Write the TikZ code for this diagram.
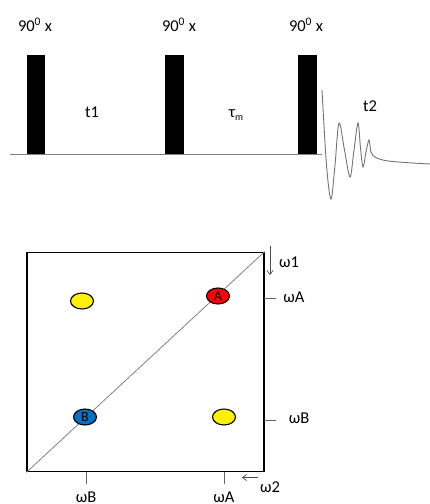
\documentclass[tikz,border=0pt]{standalone}
\usepackage{fontspec}
\setmainfont{Carlito}
\usetikzlibrary{shapes.geometric,arrows.meta}
\begin{document}
\begin{tikzpicture}[x=1pt,y=-1pt,
  lbl/.style={font=\fontsize{16.5}{19}\selectfont, inner sep=0pt},
  pulse/.style={fill=black, draw=none},
  peak/.style={ellipse, draw=black, line width=1.1pt, minimum width=23pt, minimum height=16pt, inner sep=0pt, font=\fontsize{14}{16}\selectfont},
  tick/.style={draw=gray!80!black, line width=0.8pt},
  axarrow/.style={draw=gray!60!black, line width=0.7pt, -{Straight Barb[length=4pt,width=6pt]}}]
\useasboundingbox (0,0) rectangle (430,504);
% pulse sequence
\coordinate (b0) at (10,154);
\coordinate (b1) at (322,154);
\draw[gray, line width=1pt] (b0) -- (b1);
\fill[pulse] (27,55) rectangle (45,154);
\fill[pulse] (165,55) rectangle (184,154);
\fill[pulse] (298,55) rectangle (317,154);
\node[lbl] (p1) at (35,25) {90\textsuperscript{0} x};
\node[lbl] (p2) at (179,25) {90\textsuperscript{0} x};
\node[lbl] (p3) at (306,25) {90\textsuperscript{0} x};
\node[lbl] (t1) at (92,112) {t1};
\node[lbl] (tm) at (236,115) {τ\raisebox{-0.4ex}{\fontsize{10}{11}\selectfont m}};
\node[lbl] (t2) at (370,106) {t2};
\draw[gray!90!black, line width=0.9pt] plot[smooth, tension=0.55] coordinates {(322,90) (326.5,165) (331,199) (335,165) (339,123) (344.5,150) (350,177) (354,150) (358,123) (360.5,148) (363,167) (366,152) (369,140) (371,152) (375,157) (385,160.5) (405,162.5) (430,164)};
% 2D spectrum
\node[draw=black, line width=1.4pt, minimum width=237pt, minimum height=219.5pt, inner sep=0pt] (box) at (145.5,362) {};
\draw[gray, line width=0.8pt] (box.south west) -- (box.north east);
\node[peak, fill=yellow] (c1) at (82,301) {};
\node[peak, fill=red] (A) at (218,296) {A};
\node[peak, fill={rgb,255:red,0;green,112;blue,192}] (B) at (85,417) {B};
\node[peak, fill=yellow] (c2) at (224,417) {};
% right ticks
\coordinate (ra0) at (264,298);
\coordinate (ra1) at (276,298);
\coordinate (rb0) at (264,420);
\coordinate (rb1) at (276,420);
\draw[tick] (ra0) -- (ra1);
\draw[tick] (rb0) -- (rb1);
\node[lbl] (wA1) at (294,297) {ωA};
\node[lbl] (wB1) at (299,418) {ωB};
% bottom ticks
\coordinate (ba0) at (86,472);
\coordinate (ba1) at (86,484);
\coordinate (bb0) at (224,472);
\coordinate (bb1) at (224,484);
\draw[tick] (ba0) -- (ba1);
\draw[tick] (bb0) -- (bb1);
\node[lbl] (wB2) at (86,497) {ωB};
\node[lbl] (wA2) at (224,497) {ωA};
% axis arrows
\coordinate (w1s) at (270,246);
\coordinate (w1e) at (270,275);
\draw[axarrow] (w1s) -- (w1e);
\node[lbl] (w1) at (289,262) {ω1};
\coordinate (w2s) at (258,477.5);
\coordinate (w2e) at (242,477.5);
\draw[axarrow] (w2s) -- (w2e);
\node[lbl] (w2) at (270,487) {ω2};
\end{tikzpicture}
\end{document}
